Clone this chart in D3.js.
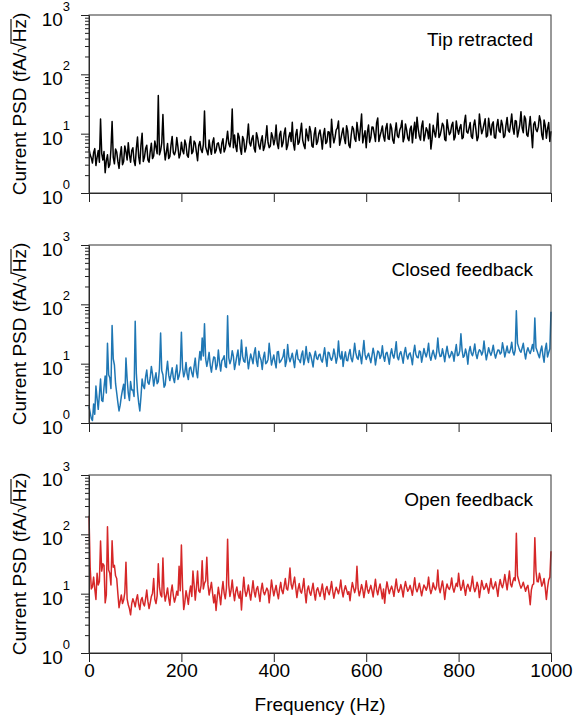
<!DOCTYPE html>
<html>
<head>
<meta charset="utf-8">
<script src="https://cdn.jsdelivr.net/npm/d3@7"></script>
<style>
  body { margin: 0; background: #fff; }
  text { font-family: "Liberation Sans", Arial, sans-serif; fill: #000; }
</style>
</head>
<body>
<script>
// frequency grids (Hz): main points every 5 Hz, plus the in-between points
const freqs = d3.range(0, 1001, 5);
const midFreqs = d3.range(2.5, 1000, 5);

// PSD values (fA/sqrt(Hz))
const tipRetracted = [
  5.6, 3.9, 4.8, 2.9, 5.2, 17.7, 3.6, 2.2, 4.4, 3.0,
  16, 3.1, 4.9, 2.6, 6.0, 3.4, 5.0, 7.0, 3.3, 5.8,
  2.9, 8.8, 3.1, 10.2, 4.0, 6.4, 3.3, 6.9, 4.2, 5.9,
  44, 5.2, 21, 3.6, 6.8, 4.1, 9.0, 4.4, 8.6, 3.9,
  7.2, 4.6, 6.5, 4.0, 9.0, 5.0, 6.9, 3.5, 7.4, 4.8,
  24, 5.1, 7.8, 4.5, 8.5, 5.2, 7.0, 4.7, 8.2, 5.6,
  11, 6.0, 26, 9.5, 5.0, 8.8, 4.5, 7.9, 5.8, 14.5,
  6.2, 9.3, 4.9, 8.6, 5.5, 9.2, 6.0, 13.6, 5.8, 10.4,
  6.5, 14, 5.6, 11, 7.0, 12.5, 6.3, 10.5, 15.6, 5.3,
  11.8, 7.2, 15, 6.4, 12, 7.6, 10.8, 5.9, 12.6, 7.4,
  11.5, 5.5, 12.2, 7.3, 10.6, 17.5, 7.0, 11.6, 16.3, 8.0,
  12.5, 6.8, 11.0, 5.8, 13.2, 8.2, 15.5, 7.7, 21.5, 9.0,
  5.8, 14, 8.5, 12.8, 7.4, 18.4, 9.2, 13.5, 7.5, 14.8,
  8.0, 12.4, 6.9, 15.2, 8.6, 13.0, 7.3, 14.6, 8.4, 12.0,
  7.0, 15.6, 19, 9.0, 13.4, 7.6, 12.6, 8.2, 5.5, 13.8,
  8.8, 22, 9.4, 15, 8.0, 17.2, 9.6, 13.8, 7.8, 16.4,
  9.8, 14.2, 8.6, 20.5, 10.2, 15.4, 8.3, 17.0, 7.6, 21.5,
  10.0, 14.6, 8.8, 18.2, 9.5, 15.8, 8.4, 17.4, 10.5, 14.0,
  9.2, 18.8, 10.6, 21.5, 9.8, 16.2, 11.0, 23.5, 10.4, 17.6,
  9.0, 19.4, 5.8, 15.8, 10.8, 20.0, 9.6, 17.0, 8.4, 15.4,
  11.0
];
const tipRetractedMid = [
  4.4, 3.2, 5.6, 4.0, 3.3, 4.6, 5.0, 3.5, 2.7, 5.4,
  4.0, 5.5, 3.4, 4.3, 3.0, 6.2, 3.6, 4.4, 5.2, 3.5,
  5.7, 4.1, 6.5, 3.4, 5.6, 3.6, 5.0, 3.8, 7.5, 4.6,
  4.4, 7.0, 5.8, 4.9, 3.8, 6.4, 4.8, 5.2, 6.0, 4.5,
  5.2, 7.8, 4.3, 6.8, 4.6, 7.5, 4.9, 6.3, 5.4, 6.6,
  6.0, 4.4, 5.6, 7.2, 4.7, 6.8, 5.5, 6.9, 4.9, 7.6,
  6.8, 8.4, 5.8, 6.2, 10.2, 5.6, 9.0, 4.9, 8.6, 7.0,
  8.2, 5.6, 10.4, 6.4, 7.6, 5.2, 8.4, 7.1, 6.2, 8.8,
  8.0, 6.8, 9.6, 6.0, 10.2, 5.4, 8.8, 7.4, 6.8, 9.6,
  6.6, 10.4, 7.8, 5.6, 9.4, 13.2, 6.2, 9.8, 6.6, 10.0,
  8.4, 9.6, 6.8, 10.8, 5.9, 9.8, 8.6, 12.4, 6.4, 10.2,
  8.4, 13.6, 6.4, 9.4, 12.0, 7.4, 10.6, 12.6, 7.0, 11.2,
  10.6, 7.2, 13.0, 9.8, 15.2, 7.4, 11.0, 9.0, 12.4, 8.2,
  14.6, 7.8, 10.8, 9.2, 11.4, 16.6, 8.6, 11.6, 7.6, 13.4,
  11.2, 8.4, 12.2, 7.8, 16.4, 9.4, 11.2, 14.6, 8.0, 10.6,
  12.8, 8.6, 11.6, 13.6, 7.6, 12.4, 10.4, 15.6, 8.8, 11.8,
  12.6, 8.2, 15.4, 10.8, 12.4, 9.0, 13.8, 11.6, 8.8, 14.2,
  11.6, 17.8, 9.2, 12.8, 14.4, 8.6, 13.4, 11.2, 16.8, 8.6,
  13.8, 11.4, 14.6, 12.4, 16.6, 8.8, 14.4, 12.6, 19.8, 9.6,
  13.2, 10.8, 14.4, 11.8, 13.0, 16.4, 8.0, 13.6, 12.2, 7.4
];

const closedFeedback = [
  1.9, 1.2, 2.1, 4.2, 1.7, 5.5, 2.3, 6.2, 22, 5.8,
  44, 9.5, 3.2, 1.6, 2.8, 4.5, 12.5, 3.2, 5.0, 3.6,
  52, 3.4, 1.6, 5.5, 3.8, 7.8, 4.5, 9.0, 4.2, 7.0,
  5.0, 33, 6.5, 4.4, 11, 5.2, 8.5, 4.8, 9.5, 6.2,
  34, 6.0, 10.5, 5.4, 8.8, 6.0, 12.4, 5.8, 16, 27,
  47, 9.0, 15.5, 7.2, 13.0, 8.0, 17, 7.5, 12, 9.0,
  64, 10, 16.5, 8.0, 13.5, 9.5, 25, 11, 19, 8.2,
  14.5, 10, 18.5, 9.0, 13, 8.0, 15.6, 10.5, 22, 9.5,
  14, 8.5, 16, 11, 13.2, 9.0, 21, 10.8, 15, 8.6,
  17, 11.5, 14.2, 9.6, 19.5, 10.5, 13.8, 8.8, 16.2, 11.8,
  14.5, 10.6, 18.5, 9.0, 15.2, 11.4, 17.6, 10.2, 24, 12.0,
  9.0, 15.8, 11.2, 17.4, 10.8, 22, 12.6, 16.6, 10.0, 24.5,
  11.8, 15.0, 10.4, 18.2, 9.5, 16.4, 12.2, 20, 11.0, 15.6,
  9.8, 17.8, 12.4, 23.5, 11.6, 16.0, 10.2, 18.8, 12.0, 15.2,
  9.6, 20.5, 12.8, 16.4, 10.6, 18.0, 13.0, 22, 11.4, 16.8,
  12.0, 27, 13.2, 17.8, 10.8, 19.6, 12.6, 16.0, 11.0, 21,
  14.0, 32, 12.8, 17.6, 9.8, 19.4, 13.6, 21.5, 12.2, 17.2,
  14.0, 24, 11.6, 18.6, 13.8, 20.5, 12.4, 17.0, 14.6, 22.5,
  13.0, 19.8, 15.2, 23.0, 14.0, 78, 19.0, 15.6, 22, 12.0,
  18.6, 14.8, 21, 59, 16.4, 12.6, 19.8, 10.6, 22.0, 15.4,
  75
];
const closedFeedbackMid = [
  1.5, 1.1, 1.4, 2.6, 3.0, 2.4, 4.0, 3.2, 6.5, 3.8,
  12, 4.6, 2.2, 2.0, 3.6, 2.6, 5.6, 2.4, 3.6, 2.8,
  6.8, 2.2, 2.8, 4.2, 6.0, 4.8, 5.8, 6.6, 5.6, 4.6,
  8.2, 7.6, 4.0, 7.4, 6.4, 6.6, 5.8, 7.0, 5.4, 8.0,
  8.6, 7.2, 6.6, 8.4, 7.0, 9.0, 7.2, 10.5, 11.5, 13.5,
  12.0, 11.4, 9.4, 10.2, 12.6, 9.4, 10.6, 11.2, 13.6, 8.6,
  12.5, 11.6, 13.4, 10.2, 17.0, 12.0, 13.4, 10.6, 12.8, 11.2,
  12.2, 15.0, 11.0, 16.2, 11.4, 12.8, 10.0, 11.8, 14.4, 11.6,
  10.6, 15.8, 10.4, 12.0, 17.4, 11.0, 13.0, 12.6, 11.4, 13.8,
  12.0, 10.4, 16.4, 12.2, 12.6, 15.4, 11.2, 13.2, 12.4, 14.0,
  11.6, 13.8, 12.4, 15.6, 12.4, 13.2, 14.0, 12.8, 13.6, 16.0,
  12.6, 11.4, 14.6, 12.2, 14.4, 15.2, 11.8, 13.4, 15.8, 14.2,
  13.4, 12.6, 13.6, 14.4, 12.8, 15.6, 13.8, 13.2, 14.8, 12.6,
  14.4, 13.8, 16.2, 12.8, 14.6, 13.0, 15.2, 13.8, 14.4, 12.6,
  15.4, 14.4, 12.6, 15.8, 13.6, 14.8, 15.8, 13.4, 14.4, 13.8,
  15.6, 16.0, 13.4, 14.4, 15.2, 14.8, 13.6, 14.6, 15.8, 13.6,
  16.4, 17.0, 13.6, 14.6, 16.0, 15.0, 16.2, 14.6, 15.2, 16.4,
  15.8, 16.0, 14.6, 15.6, 16.2, 15.0, 14.8, 16.8, 15.4, 17.6,
  16.0, 15.4, 17.6, 15.8, 17.0, 22, 16.6, 18.4, 15.6, 16.0,
  16.2, 17.4, 16.2, 18.6, 14.2, 16.6, 13.8, 17.6, 13.0, 17.8
];

const openFeedback = [
  205, 12, 19, 8.0, 14, 77, 32, 7.0, 134, 22,
  78, 30, 18, 5.8, 9.5, 7.8, 34, 6.5, 4.4, 8.2,
  6.0, 9.6, 5.4, 8.6, 6.2, 11.5, 5.6, 9.0, 18, 6.8,
  32, 9.5, 40, 7.5, 12.5, 6.4, 14, 7.2, 11, 29,
  66, 5.4, 11.2, 6.6, 13.5, 24, 7.8, 24, 10.5, 36,
  15, 41, 9.5, 15.5, 7.0, 5.2, 12.8, 6.5, 16, 8.2,
  83, 9.0, 17, 7.6, 13, 8.4, 5.3, 19, 9.0, 14,
  7.8, 16.5, 8.8, 13.2, 7.4, 15, 9.6, 12.4, 7.0, 17,
  9.2, 13.8, 8.2, 15.5, 10.0, 18, 11.5, 27, 12.0, 19,
  8.6, 14.8, 10.2, 18, 7.0, 13.5, 9.4, 15, 7.8, 12.6,
  9.0, 14.5, 8.0, 13.2, 9.6, 16, 8.4, 12.8, 10.0, 17,
  8.8, 13.6, 9.8, 7.6, 15.4, 10.4, 29, 9.2, 14.2, 8.6,
  16.5, 10.2, 13.8, 8.8, 17.5, 9.6, 14.6, 8.2, 6.9, 15.8,
  10.0, 13.4, 9.0, 17.6, 10.6, 14.2, 8.8, 16.0, 11.0, 13.8,
  9.4, 18.5, 10.8, 15.0, 9.2, 14.0, 11.4, 19, 10.0, 15.2,
  11.6, 25, 10.4, 16.4, 8.0, 14.6, 11.8, 18.4, 10.6, 15.0,
  22, 11.4, 16.8, 9.4, 14.4, 11.0, 19.6, 10.8, 15.6, 8.6,
  16.6, 11.8, 14.8, 10.2, 18.0, 12.0, 15.8, 9.0, 17.4, 12.6,
  21, 11.6, 24, 13.0, 18.5, 104, 17, 12.4, 15.6, 11.0,
  13.8, 6.5, 14.0, 88, 16, 22, 13.4, 18.0, 8.0, 17,
  52
];
const openFeedbackMid = [
  28, 13, 12, 22, 16, 24, 30, 9.5, 25, 14,
  28, 20, 10, 7.5, 6.8, 10.4, 8.2, 5.6, 6.8, 7.2,
  8.0, 6.6, 7.8, 6.8, 8.2, 7.4, 7.0, 10.2, 8.0, 9.2,
  13, 8.8, 10.4, 9.6, 8.4, 10.6, 9.4, 8.6, 9.4, 11.2,
  12.8, 7.2, 8.8, 10.4, 9.0, 14, 12.8, 11.2, 13.6, 12.0,
  16.4, 14.2, 12.0, 10.2, 9.6, 8.6, 9.4, 11.0, 10.2, 12.4,
  14, 11.4, 10.6, 10.8, 9.8, 11.0, 10.6, 11.4, 10.8, 10.2,
  11.2, 10.8, 12.0, 10.0, 11.6, 10.8, 11.0, 11.2, 10.6, 12.2,
  11.4, 10.2, 12.0, 11.2, 13.6, 12.2, 16.0, 14.4, 15.2, 12.6,
  12.0, 11.0, 12.8, 10.4, 11.6, 10.6, 11.8, 10.2, 11.4, 10.6,
  11.2, 10.4, 11.8, 10.8, 12.0, 11.0, 10.6, 11.4, 12.2, 11.2,
  11.4, 11.6, 10.8, 11.4, 12.6, 12.4, 12.0, 11.2, 11.8, 11.4,
  12.0, 11.8, 11.2, 12.4, 11.6, 12.2, 11.0, 12.0, 11.6, 12.4,
  11.8, 11.4, 12.6, 12.2, 11.8, 11.6, 12.6, 12.8, 12.0, 11.6,
  13.0, 12.2, 12.4, 11.8, 11.6, 12.8, 13.2, 12.4, 11.8, 12.6,
  13.6, 12.8, 13.0, 12.2, 11.8, 12.6, 13.4, 12.6, 12.8, 13.2,
  14.4, 13.0, 12.4, 12.8, 12.6, 14.2, 13.0, 12.2, 13.2, 11.8,
  13.6, 12.8, 12.6, 13.4, 13.2, 13.6, 12.2, 13.6, 14.0, 15.4,
  15.6, 16.8, 14.4, 16.2, 16.6, 20, 14.2, 13.6, 13.0, 12.8,
  10.0, 11.6, 14.6, 24, 15.8, 17.6, 15.0, 12.6, 12.6, 19
];

const panelLabels = ["Tip retracted", "Closed feedback", "Open feedback"];
const panelColors = ["#000000", "#1f77b4", "#d62728"];
const panelSeries = [tipRetracted, closedFeedback, openFeedback];
const panelMids = [tipRetractedMid, closedFeedbackMid, openFeedbackMid];
const xTicks = [0, 200, 400, 600, 800, 1000];
const yMajor = [1, 10, 100, 1000];
const yExponents = ["0", "1", "2", "3"];

// set the dimensions and margins of the graph
const margin = { top: 15, left: 89 },
    width = 462,
    panelHeight = 178,
    panelStep = 230;

const svg = d3.select("body")
    .append("svg")
    .attr("width", 574)
    .attr("height", 721);

const x = d3.scaleLinear().domain([0, 1000]).range([0, width]);
const y = d3.scaleLog().domain([1, 1000]).range([panelHeight, 0]);

// minor ticks 2..9 of every decade
const yMinor = [];
[1, 10, 100].forEach(function (d) {
    for (let k = 2; k <= 9; k++) yMinor.push(d * k);
});

const line = d3.line()
    .x(function (d) { return x(d.f); })
    .y(function (d) { return y(d.v); });

panelSeries.forEach(function (series, p) {
    const g = svg.append("g")
        .attr("transform", `translate(${margin.left},${margin.top + p * panelStep})`);

    // interleave the main points and the in-between points
    const data = [];
    freqs.forEach(function (f, i) {
        data.push({ f: f, v: series[i] });
        if (i < midFreqs.length) data.push({ f: midFreqs[i], v: panelMids[p][i] });
    });

    // trace
    g.append("path")
        .datum(data)
        .attr("fill", "none")
        .attr("stroke", panelColors[p])
        .attr("stroke-width", 1.5)
        .attr("stroke-linejoin", "round")
        .attr("d", line);

    // x axis (labels only on the last panel)
    const xAxis = g.append("g")
        .attr("transform", `translate(0,${panelHeight})`)
        .call(d3.axisBottom(x).tickValues(xTicks).tickSize(9).tickSizeOuter(0)
            .tickFormat(p === 2 ? d3.format("d") : ""));
    xAxis.selectAll("text")
        .attr("y", 24)
        .attr("dy", 0)
        .attr("dominant-baseline", "auto")
        .style("font-size", "19px")
        .style("font-family", "'Liberation Sans', Arial, sans-serif");

    // y axis minor ticks
    g.append("g")
        .call(d3.axisLeft(y).tickValues(yMinor).tickSize(4).tickFormat(""))
        .select(".domain").remove();

    // y axis major ticks
    g.append("g")
        .call(d3.axisLeft(y).tickValues(yMajor).tickSize(8).tickSizeOuter(0).tickFormat(""));

    g.selectAll(".tick line").attr("stroke", "#222");
    g.selectAll(".domain").attr("stroke", "#222");

    // 10^n labels
    const lab = g.selectAll(".ylab")
        .data(yMajor)
        .enter().append("text")
        .attr("class", "ylab")
        .attr("text-anchor", "end")
        .attr("x", -19)
        .attr("y", function (d) { return y(d) + 11; })
        .style("font-size", "19px");
    lab.append("tspan").text("10");
    lab.append("tspan")
        .attr("dy", -15)
        .style("font-size", "13px")
        .text(function (d, i) { return yExponents[i]; });

    // frame
    g.append("rect")
        .attr("width", width)
        .attr("height", panelHeight)
        .attr("fill", "none")
        .attr("stroke", "#333")
        .attr("stroke-width", 1);

    // panel label
    g.append("text")
        .attr("x", 444)
        .attr("y", 31)
        .attr("text-anchor", "end")
        .style("font-size", "19px")
        .text(panelLabels[p]);

    // y axis title with a bar over Hz
    const tg = svg.append("g")
        .attr("transform", `translate(26,${margin.top + p * panelStep + panelHeight / 2}) rotate(-90)`);
    const title = tg.append("text")
        .attr("text-anchor", "middle")
        .style("font-size", "19px")
        .text("Current PSD (fA/\u221AHz)");
    const node = title.node();
    const full = node.getComputedTextLength();
    const str = "Current PSD (fA/\u221AHz)";
    const i0 = str.indexOf("\u221A");
    const start = -full / 2 + node.getSubStringLength(0, i0) + node.getSubStringLength(i0, 1) * 0.85;
    const end = -full / 2 + node.getSubStringLength(0, str.indexOf(")"));
    tg.append("line")
        .attr("x1", start).attr("x2", end)
        .attr("y1", -15).attr("y2", -15)
        .attr("stroke", "#000")
        .attr("stroke-width", 1.1);
});

// x axis title
svg.append("text")
    .attr("x", margin.left + width / 2)
    .attr("y", 711)
    .attr("text-anchor", "middle")
    .style("font-size", "19px")
    .text("Frequency (Hz)");
</script>
</body>
</html>
